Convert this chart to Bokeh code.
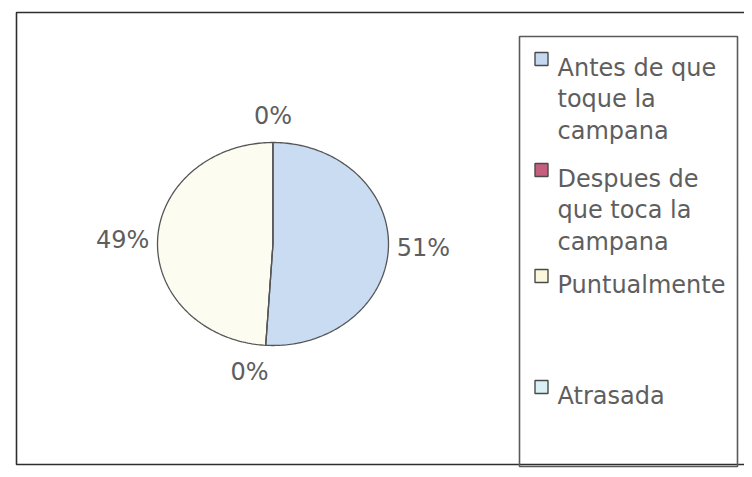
import numpy as np
from bokeh.plotting import figure
from bokeh.models import Range1d
from bokeh.core.properties import value
from bokeh.embed import file_html
from bokeh.resources import INLINE

# ---- data ----
categories = ["Antes de que toque la campana", "Despues de que toca la campana",
              "Puntualmente", "Atrasada"]
percent = [51, 0, 49, 0]
pct_labels = ["51%", "0%", "49%", "0%"]
legend_lines = [["Antes de que", "toque la", "campana"],
                ["Despues de", "que toca la", "campana"],
                ["Puntualmente"],
                ["Atrasada"]]
colors = ["#c9dcf2", "#c4607e", "#fdfcf0", "#d9f0f5"]
swatch_colors = ["#c4d8f0", "#c4607e", "#fbf7dc", "#d9f0f5"]

# ---- layout (pixel coordinates of the screenshot, y downward) ----
W, H = 744, 469
p = figure(width=W, height=H, x_range=Range1d(0, W), y_range=Range1d(H, 0),
           output_backend="svg", toolbar_location=None, min_border=0,
           background_fill_color="white", border_fill_color="white")
p.axis.visible = False
p.grid.visible = False
p.outline_line_color = None

FONT = value("DejaVu Sans")
TXT = "#5e5e5e"

# outer chart frame
p.quad(left=[16], right=[780], top=[12], bottom=[464], fill_color=None,
       line_color="#2e2e2e", line_width=1.6)
# legend box
p.quad(left=[519], right=[737], top=[36], bottom=[466], fill_color=None,
       line_color="#5a5a5a", line_width=1.6)

# pie (slightly elliptical, clockwise from 12 o'clock)
cx, cy, rx, ry = 272.5, 243.5, 115.5, 101.5
vals = np.array(percent, dtype=float)
frac = vals / vals.sum()
ends = np.cumsum(frac) * 2 * np.pi
starts = ends - frac * 2 * np.pi
xs, ys = [], []
for a0, a1 in zip(starts, ends):
    t = np.linspace(a0, a1, max(2, int((a1 - a0) / (2 * np.pi) * 360) + 2))
    xs.append(list(np.r_[cx, cx + rx * np.sin(t), cx]))
    ys.append(list(np.r_[cy, cy - ry * np.cos(t), cy]))
order = [2, 0, 1, 3]
p.patches(xs=[xs[i] for i in order], ys=[ys[i] for i in order],
          fill_color=[colors[i] for i in order],
          line_color="#555555", line_width=1.3)

# percentage labels
mid = (starts + ends) / 2
lx = cx + (rx + 35) * np.sin(mid)
ly = cy - (ry + 27) * np.cos(mid)
lx[1] -= 14
p.text(x=list(lx), y=list(ly), text=pct_labels, text_font=FONT,
       text_font_size="24px", text_color=TXT, text_align="center",
       text_baseline="middle")

# legend entries
entry_baselines = [67, 178, 284, 395]
line_step = 31.5
tx, ty, tt = [], [], []
for lines, b in zip(legend_lines, entry_baselines):
    for k, s in enumerate(lines):
        tx.append(557)
        ty.append(b + k * line_step)
        tt.append(s)
p.text(x=tx, y=ty, text=tt, text_font=FONT, text_font_size="24px",
       text_color=TXT, text_align="left", text_baseline="alphabetic")
p.rect(x=[541] * 4, y=[b - 8.5 for b in entry_baselines], width=13, height=13,
       fill_color=swatch_colors, line_color="#4a4a4a", line_width=1.4)

open("out.html", "w").write(file_html(p, INLINE))
